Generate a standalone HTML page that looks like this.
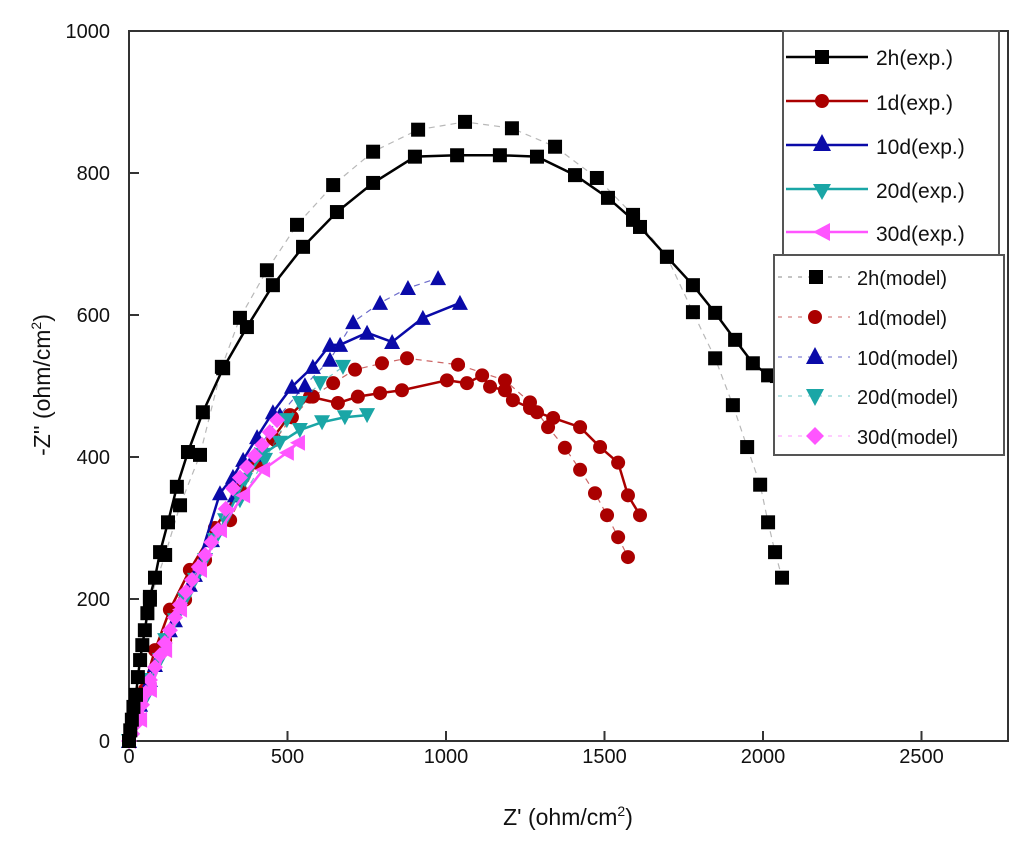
<!DOCTYPE html>
<html><head><meta charset="utf-8"><style>
body{margin:0;background:#fff}
svg{display:block}
text{font-family:"Liberation Sans",Arial,sans-serif;fill:#111}
</style></head><body>
<svg id="chart" width="1024" height="847" viewBox="0 0 1024 847">
<g id="plot"></g>
</svg>
<script>
const xTicks=[0,500,1000,1500,2000,2500];
const yTicks=[0,200,400,600,800,1000];
const h2Exp=[[0,0],[4,15],[9,30],[14,48],[22,65],[28,90],[35,114],[42,135],[50,156],[58,180],[66,203],[82,230],[98,266],[123,308],[151,358],[186,407],[233,463],[297,525],[372,583],[454,642],[549,696],[656,745],[770,786],[902,823],[1035,825],[1170,825],[1287,823],[1407,797],[1511,765],[1590,734],[1612,724],[1697,682],[1779,642],[1849,603],[1912,565],[1968,532],[2016,515],[2044,514]];
const h2Mod=[[0,0],[66,199],[114,262],[161,332],[224,403],[293,527],[350,596],[435,663],[530,727],[644,783],[770,830],[912,861],[1060,872],[1208,863],[1344,837],[1476,793],[1590,741],[1697,682],[1779,604],[1849,539],[1905,473],[1950,414],[1991,361],[2016,308],[2038,266],[2060,230]];
const d1Exp=[[0,0],[35,58],[82,128],[129,185],[192,241],[271,300],[350,354],[407,396],[454,427],[508,459],[571,485],[659,476],[722,485],[792,490],[861,494],[1003,508],[1066,504],[1114,515],[1139,499],[1186,494],[1211,480],[1265,469],[1287,463],[1338,455],[1423,442],[1486,414],[1543,392],[1574,346],[1612,318]];
const d1Mod=[[0,0],[50,72],[114,142],[177,199],[240,255],[319,311],[404,392],[461,424],[514,456],[580,485],[644,504],[713,523],[798,532],[877,539],[1038,530],[1186,508],[1265,477],[1322,442],[1375,413],[1423,382],[1470,349],[1508,318],[1543,287],[1574,259]];
const d10Exp=[[0,0],[35,51],[82,107],[145,170],[208,234],[287,349],[328,372],[360,396],[404,428],[454,463],[514,499],[580,527],[634,558],[666,558],[751,575],[830,562],[927,596],[1044,617]];
const d10Mod=[[0,0],[28,37],[66,86],[129,156],[192,220],[262,283],[334,346],[397,403],[476,459],[555,501],[634,537],[707,590],[792,617],[880,638],[975,652]];
const d20Exp=[[0,0],[35,51],[66,86],[114,142],[177,199],[240,255],[303,311],[366,368],[420,403],[476,420],[539,438],[609,449],[681,456],[751,459]];
const d20Mod=[[0,0],[50,58],[98,114],[145,170],[208,227],[271,283],[350,339],[429,396],[498,452],[539,476],[603,504],[675,527]];
const d30Exp=[[0,0],[35,30],[66,72],[114,128],[161,185],[224,241],[287,297],[360,346],[423,382],[498,406],[533,420]];
const d30Mod=[[0,0],[10,10],[19,23],[30,37],[41,51],[53,68],[66,86],[82,104],[98,121],[113,138],[129,156],[145,174],[161,192],[180,210],[199,227],[220,245],[240,262],[260,280],[281,297],[305,327],[328,356],[350,371],[372,386],[396,402],[420,417],[444,435],[467,452]];

const X0=129,X1=1008,Y0=741,Y1=31;
const xMax=(X1-X0)/0.317;
const xs=v=>X0+v*(X1-X0)/xMax;
const ys=v=>Y0-v*(Y0-Y1)/1000;
const NS='http://www.w3.org/2000/svg';
const svg=document.getElementById('chart');
function mk(tag,attrs,parent){const e=document.createElementNS(NS,tag);for(const k in attrs)e.setAttribute(k,attrs[k]);(parent||svg).appendChild(e);return e;}
function marker(shape,cx,cy,col,s,parent){
  if(shape==='sq')return mk('rect',{x:cx-s,y:cy-s,width:2*s,height:2*s,fill:col},parent);
  if(shape==='ci')return mk('circle',{cx:cx,cy:cy,r:s,fill:col},parent);
  if(shape==='up')return mk('polygon',{points:`${cx},${cy-s-1} ${cx-s-1},${cy+s} ${cx+s+1},${cy+s}`,fill:col},parent);
  if(shape==='dn')return mk('polygon',{points:`${cx},${cy+s+1} ${cx-s-1},${cy-s} ${cx+s+1},${cy-s}`,fill:col},parent);
  if(shape==='lt')return mk('polygon',{points:`${cx-s-1},${cy} ${cx+s},${cy-s-1} ${cx+s},${cy+s+1}`,fill:col},parent);
  if(shape==='di')return mk('polygon',{points:`${cx},${cy-s-1} ${cx+s+1},${cy} ${cx},${cy+s+1} ${cx-s-1},${cy}`,fill:col},parent);
}
const frame=mk('rect',{x:X0,y:Y1,width:X1-X0,height:Y0-Y1,fill:'none',stroke:'#333','stroke-width':2});


xTicks.forEach(t=>{
  const l=mk('line',{x1:xs(t),x2:xs(t),y1:Y0,y2:Y0-10,stroke:'#333','stroke-width':2});
  
  
  const tx=mk('text',{x:xs(t),y:763,'text-anchor':'middle','font-size':20});
  tx.textContent=t;
  
  
});
yTicks.forEach(t=>{
  const l=mk('line',{x1:X0,x2:X0+10,y1:ys(t),y2:ys(t),stroke:'#333','stroke-width':2});
  
  
  const tx=mk('text',{x:110,y:ys(t)+7,'text-anchor':'end','font-size':20});
  tx.textContent=t;
  
  
});
const series=[
 {d:d1Mod,c:'#aa0000',s:'ci',m:true,name:'1d-model'},
 {d:d1Exp,c:'#aa0000',s:'ci',m:false,name:'1d-exp'},
 {d:d10Mod,c:'#0a0aa8',s:'up',m:true,name:'10d-model'},
 {d:d10Exp,c:'#0a0aa8',s:'up',m:false,name:'10d-exp'},
 {d:d20Mod,c:'#1aa6a6',s:'dn',m:true,name:'20d-model'},
 {d:d20Exp,c:'#1aa6a6',s:'dn',m:false,name:'20d-exp'},
 {d:d30Exp,c:'#ff55ff',s:'lt',m:false,name:'30d-exp'},
 {d:d30Mod,c:'#ff55ff',s:'di',m:true,name:'30d-model'},
 {d:h2Mod,c:'#000',s:'sq',m:true,name:'2h-model'},
 {d:h2Exp,c:'#000',s:'sq',m:false,name:'2h-exp'}
];
series.forEach(se=>{
  const g=mk('g',{});
  
  
  const pts=se.d.map(p=>xs(p[0])+','+ys(p[1])).join(' ');
  const lineCol=se.m?(se.c==='#000'?'#888':se.c):se.c;
  const pl=mk('polyline',{points:pts,fill:'none',stroke:lineCol,'stroke-width':se.m?1.2:2.5,'stroke-dasharray':se.m?'6 5':'none',opacity:se.m?0.6:1},g);
  
  
  se.d.forEach(p=>{
    const m=marker(se.s,xs(p[0]),ys(p[1]),se.c,7,g);
    
    
  });
});
</script>
<svg width="1024" height="847" style="position:absolute;left:0;top:0">
<g>
<rect x="783" y="31" width="216" height="224" fill="#fff" stroke="#555" stroke-width="2"/>
<g><line x1="786" x2="868" y1="57" y2="57" stroke="#000" stroke-width="2.5"/><rect x="815" y="50" width="14" height="14" fill="#000"/><text x="876" y="65" font-size="21">2h(exp.)</text></g>
<g><line x1="786" x2="868" y1="101" y2="101" stroke="#aa0000" stroke-width="2.5"/><circle cx="822" cy="101" r="7" fill="#aa0000"/><text x="876" y="110" font-size="21">1d(exp.)</text></g>
<g><line x1="786" x2="868" y1="145" y2="145" stroke="#0a0aa8" stroke-width="2.5"/><polygon points="822,134 813,151 831,151" fill="#0a0aa8"/><text x="876" y="154" font-size="21">10d(exp.)</text></g>
<g><line x1="786" x2="868" y1="189" y2="189" stroke="#1aa6a6" stroke-width="2.5"/><polygon points="822,200 813,184 831,184" fill="#1aa6a6"/><text x="876" y="198" font-size="21">20d(exp.)</text></g>
<g><line x1="786" x2="868" y1="232" y2="232" stroke="#ff55ff" stroke-width="2.5"/><polygon points="813,232 830,223 830,241" fill="#ff55ff"/><text x="876" y="241" font-size="21">30d(exp.)</text></g>
</g>
<g>
<rect x="774" y="255" width="230" height="200" fill="#fff" stroke="#555" stroke-width="2"/>
<g><line x1="778" x2="850" y1="277" y2="277" stroke="#888" stroke-width="1" stroke-dasharray="4 6"/><rect x="809" y="270" width="14" height="14" fill="#000"/><text x="857" y="285" font-size="20">2h(model)</text></g>
<g><line x1="778" x2="850" y1="317" y2="317" stroke="#aa0000" stroke-width="1" stroke-dasharray="4 6" opacity="0.6"/><circle cx="815" cy="317" r="7" fill="#aa0000"/><text x="857" y="325" font-size="20">1d(model)</text></g>
<g><line x1="778" x2="850" y1="357" y2="357" stroke="#0a0aa8" stroke-width="1" stroke-dasharray="4 6" opacity="0.6"/><polygon points="815,347 806,364 824,364" fill="#0a0aa8"/><text x="857" y="365" font-size="20">10d(model)</text></g>
<g><line x1="778" x2="850" y1="396" y2="396" stroke="#1aa6a6" stroke-width="1" stroke-dasharray="4 6" opacity="0.6"/><polygon points="815,406 806,389 824,389" fill="#1aa6a6"/><text x="857" y="404" font-size="20">20d(model)</text></g>
<g><line x1="778" x2="850" y1="436" y2="436" stroke="#ff55ff" stroke-width="1" stroke-dasharray="4 6" opacity="0.6"/><polygon points="815,427 824,436 815,445 806,436" fill="#ff55ff"/><text x="857" y="444" font-size="20">30d(model)</text></g>
</g>
<text x="568" y="825" text-anchor="middle" font-size="23">Z' (ohm/cm<tspan font-size="14" dy="-9">2</tspan><tspan dy="9">)</tspan></text>
<text transform="translate(50,385) rotate(-90)" text-anchor="middle" font-size="23">-Z'' (ohm/cm<tspan font-size="14" dy="-9">2</tspan><tspan dy="9">)</tspan></text>
</svg>
</body></html>
